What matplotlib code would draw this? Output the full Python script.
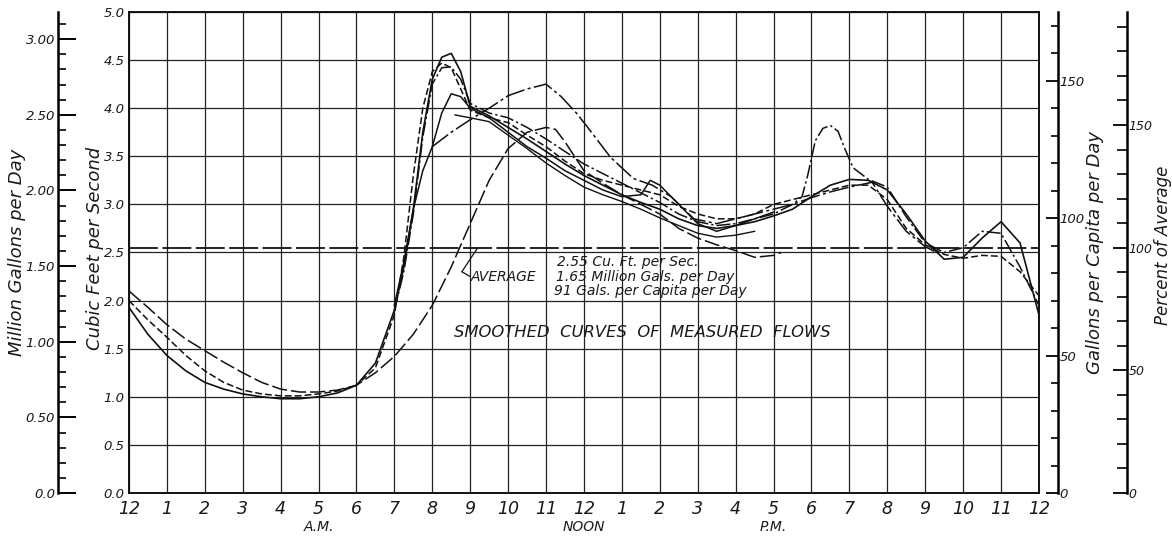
import numpy as np
import matplotlib.pyplot as plt

# --- data (hour of day, cubic feet per second) --- #
hour_labels = ['12', '1', '2', '3', '4', '5', '6', '7', '8', '9', '10', '11',
               '12', '1', '2', '3', '4', '5', '6', '7', '8', '9', '10', '11', '12']

s1_hours = [0, 0.5, 1, 1.5, 2, 2.5, 3, 3.5, 4, 4.5, 5, 5.5, 6, 6.5, 7, 7.25, 7.5, 7.75,
            8, 8.25, 8.5, 8.75, 9, 9.5, 10, 10.5, 11, 11.5, 12, 12.5, 13, 13.5, 14, 14.5,
            15, 15.5, 16, 16.5, 17, 17.5, 18, 18.5, 19, 19.5, 20, 20.5, 21, 21.5, 22,
            22.5, 23, 23.5, 24]
s1_flow = [1.93, 1.65, 1.43, 1.27, 1.15, 1.08, 1.03, 1.0, 0.98, 0.98, 1.0, 1.04, 1.12,
           1.35, 1.9, 2.35, 2.95, 3.75, 4.3, 4.53, 4.57, 4.38, 4.02, 3.92, 3.8, 3.68,
           3.55, 3.42, 3.3, 3.2, 3.1, 3.02, 2.95, 2.85, 2.78, 2.75, 2.78, 2.82, 2.88,
           2.95, 3.08, 3.2, 3.26, 3.25, 3.15, 2.9, 2.62, 2.43, 2.45, 2.65, 2.82, 2.6, 1.85]

d1_hours = [0, 0.5, 1, 1.5, 2, 2.5, 3, 3.5, 4, 4.5, 5, 5.5, 6, 6.5, 7, 7.25, 7.5, 7.75,
            8, 8.25, 8.5, 8.75, 9, 9.5, 10, 10.5, 11, 11.5, 12, 12.5, 13, 13.5, 14, 14.5,
            15, 15.5, 16, 16.5, 17, 17.5, 18, 18.5, 19, 19.5, 20, 20.5, 21, 21.5, 22,
            22.5, 23, 23.5, 24]
d1_flow = [2.0, 1.8, 1.62, 1.43, 1.27, 1.15, 1.07, 1.03, 1.01, 1.01, 1.03, 1.06, 1.12,
           1.3, 1.85, 2.45, 3.3, 4.0, 4.38, 4.47, 4.42, 4.2, 3.98, 3.9, 3.85, 3.72, 3.6,
           3.45, 3.32, 3.25, 3.2, 3.15, 3.1, 2.98, 2.9, 2.85, 2.85, 2.9, 3.0, 3.05, 3.1,
           3.15, 3.2, 3.2, 3.05, 2.75, 2.58, 2.48, 2.44, 2.47, 2.46, 2.3, 2.05]

l1_hours = [0, 0.5, 1, 1.5, 2, 2.5, 3, 3.5, 4, 4.5, 5, 5.5, 6, 6.5, 7, 7.5, 8, 8.5, 9,
            9.5, 10, 10.5, 11, 11.25, 11.5, 11.75, 12, 12.5, 13, 13.5, 14, 14.5, 15,
            15.5, 16, 16.5, 17, 17.2]
l1_flow = [2.1, 1.93, 1.75, 1.6, 1.48, 1.36, 1.25, 1.15, 1.08, 1.05, 1.05, 1.07, 1.12,
           1.25, 1.42, 1.65, 1.95, 2.35, 2.8, 3.25, 3.58, 3.75, 3.8, 3.78, 3.65, 3.5,
           3.35, 3.22, 3.1, 3.0, 2.9, 2.75, 2.65, 2.58, 2.52, 2.45, 2.47, 2.5]

s2_hours = [7, 7.25, 7.5, 7.75, 8, 8.25, 8.5, 8.75, 9, 9.5, 10, 10.5, 11, 11.5, 12,
            12.5, 13, 13.5, 13.75, 14, 14.5, 15, 15.5, 16, 16.5, 17]
s2_flow = [1.95, 2.4, 2.95, 3.35, 3.6, 3.95, 4.15, 4.12, 4.0, 3.9, 3.75, 3.6, 3.48,
           3.35, 3.25, 3.15, 3.08, 3.1, 3.25, 3.2, 3.0, 2.8, 2.72, 2.78, 2.85, 2.92]

dd1_hours = [7, 7.25, 7.5, 7.75, 8, 8.25, 8.5, 8.75, 9, 9.5, 10, 10.5, 11, 11.5, 12,
             12.5, 13, 13.5, 14, 14.5, 15, 15.5, 16, 16.5, 17, 17.5, 17.75, 17.9, 18.1,
             18.3, 18.5, 18.7, 18.9, 19.1, 19.5, 20, 20.5, 21, 21.5, 22, 22.5, 23,
             23.5, 24]
dd1_flow = [1.9, 2.3, 2.9, 3.7, 4.25, 4.42, 4.43, 4.3, 4.05, 3.95, 3.9, 3.8, 3.68, 3.55,
            3.42, 3.32, 3.22, 3.12, 3.02, 2.9, 2.82, 2.78, 2.8, 2.85, 2.9, 3.0, 3.08,
            3.3, 3.66, 3.79, 3.82, 3.76, 3.56, 3.38, 3.26, 3.18, 2.87, 2.6, 2.5, 2.55,
            2.72, 2.7, 2.35, 1.95]

ld1_hours = [8, 8.5, 9, 9.5, 10, 10.5, 11, 11.4, 11.8, 12.1, 12.7, 13.3, 13.8, 14.3,
             14.9, 15.5, 16, 16.5, 17, 17.5, 18, 18.5, 19, 19.6, 20, 20.5, 21, 21.3]
ld1_flow = [3.6, 3.75, 3.88, 4.0, 4.13, 4.2, 4.25, 4.12, 3.95, 3.8, 3.49, 3.27, 3.2,
            3.08, 2.85, 2.8, 2.85, 2.9, 2.95, 3.0, 3.07, 3.13, 3.18, 3.23, 2.98, 2.72,
            2.56, 2.5]

s3_hours = [8.6, 9, 9.5, 10, 10.5, 11, 11.5, 12, 12.5, 13, 13.5, 14, 14.5, 15, 15.5,
            16, 16.5]
s3_flow = [3.93, 3.9, 3.86, 3.72, 3.58, 3.43, 3.3, 3.18, 3.1, 3.03, 2.95, 2.86, 2.78,
           2.7, 2.66, 2.68, 2.72]

average_cfs = 2.55
mgd_per_cfs = 0.636
gpcd_per_cfs = 35.0
pct_per_cfs = 100 / 2.55

mgd_major = [0.0, 0.5, 1.0, 1.5, 2.0, 2.5, 3.0]
mgd_labels = ['0.0', '0.50', '1.00', '1.50', '2.00', '2.50', '3.00']
gpcd_major = [0, 50, 100, 150]
pct_major = [0, 50, 100, 150]

# --- figure --- #
plt.rcParams['font.family'] = ['DejaVu Sans']
lettering = dict(style='italic', color='#1a1a1a')
W, H = 1172, 537

fig = plt.figure(figsize=(W / 100, H / 100), dpi=100)
ax = fig.add_axes([0.110, 0.0819, 0.7765, 0.8958])
ax.set_xlim(0, 24)
ax.set_ylim(0, 5)

ax.set_xticks(np.arange(0, 25))
ax.set_xticklabels(hour_labels, fontsize=12.5, **lettering)
ax.set_yticks(np.arange(0, 5.01, 0.5))
ax.set_yticklabels(['%.1f' % v for v in np.arange(0, 5.01, 0.5)], fontsize=9.5, **lettering)
ax.tick_params(length=0, pad=3)
ax.tick_params(axis='x', pad=5)
ax.grid(True, color='#222222', lw=0.9)
for sp in ax.spines.values():
    sp.set_linewidth(1.4)
    sp.set_color('#111111')

# curves
ink = '#111111'
ax.plot(s1_hours, s1_flow, color=ink, lw=1.2)
ax.plot(d1_hours, d1_flow, color=ink, lw=1.1, ls=(0, (4.5, 2)))
ax.plot(l1_hours, l1_flow, color=ink, lw=1.1, ls=(0, (10, 2.6)))
ax.plot(s2_hours, s2_flow, color=ink, lw=1.1)
ax.plot(dd1_hours, dd1_flow, color=ink, lw=1.1, ls=(0, (9, 2, 1.5, 2)))
ax.plot(ld1_hours, ld1_flow, color=ink, lw=1.1, ls=(0, (13, 2.2, 2, 2.2)))
ax.plot(s3_hours, s3_flow, color=ink, lw=1.0)

# average line
ax.axhline(average_cfs, color=ink, lw=1.3, ls=(0, (16, 2.5)))
ax.annotate('', xy=(9.2, average_cfs), xytext=(8.78, 2.3),
            arrowprops=dict(arrowstyle='-', lw=0.9, color=ink, shrinkA=0, shrinkB=0))
ax.annotate('', xy=(8.78, 2.3), xytext=(9.0, 2.25),
            arrowprops=dict(arrowstyle='-', lw=0.9, color=ink, shrinkA=0, shrinkB=0))
ax.text(9.02, 2.25, 'AVERAGE', fontsize=10, va='center', ha='left', **lettering)
ax.text(11.3, 2.4, '2.55 Cu. Ft. per Sec.', fontsize=10, va='center', ha='left', **lettering)
ax.text(11.26, 2.25, '1.65 Million Gals. per Day', fontsize=10, va='center', ha='left', **lettering)
ax.text(11.22, 2.1, '91 Gals. per Capita per Day', fontsize=10, va='center', ha='left', **lettering)
ax.text(13.55, 1.67, 'SMOOTHED  CURVES  OF  MEASURED  FLOWS', fontsize=11.8, va='center',
        ha='center', **lettering)

# AM / NOON / PM
for hr, word in [(5, 'A.M.'), (12, 'NOON'), (17, 'P.M.')]:
    ax.text(hr, -0.35, word, fontsize=10, ha='center', va='center', **lettering)

# outer scales
mgd = ax.secondary_yaxis(-0.078, functions=(lambda c: c * mgd_per_cfs, lambda m: m / mgd_per_cfs))
mgd.set_yticks(mgd_major)
mgd.set_yticklabels(mgd_labels, fontsize=9.5, **lettering)
mgd.set_yticks(np.arange(0, 3.25, 0.1), minor=True)
mgd.tick_params(which='major', direction='in', length=13, width=1.4, pad=2)
mgd.tick_params(which='minor', direction='in', length=6, width=1.2)
mgd.spines['left'].set_linewidth(1.8)

gpcd = ax.secondary_yaxis(1.021, functions=(lambda c: c * gpcd_per_cfs, lambda g: g / gpcd_per_cfs))
gpcd.set_yticks(gpcd_major)
gpcd.set_yticklabels([str(v) for v in gpcd_major], fontsize=9.5, **lettering)
gpcd.set_yticks(np.arange(0, 171, 10), minor=True)
gpcd.tick_params(which='major', direction='in', length=9, width=1.3, pad=1)
gpcd.tick_params(which='minor', direction='in', length=5, width=1.2)
gpcd.spines['right'].set_linewidth(1.8)

pct = ax.secondary_yaxis(1.097, functions=(lambda c: c * pct_per_cfs, lambda p: p / pct_per_cfs))
pct.set_yticks(pct_major)
pct.set_yticklabels([str(v) for v in pct_major], fontsize=9, **lettering)
pct.set_yticks(np.arange(0, 191, 10), minor=True)
pct.tick_params(which='major', direction='in', length=10, width=1.3, pad=1)
pct.tick_params(which='minor', direction='in', length=7, width=1.2)
pct.spines['right'].set_linewidth(1.8)

# axis titles, placed where the reference letters them
for px, py, size, label in [(17, 252, 13, 'Million Gallons per Day'),
                            (95, 248, 13, 'Cubic Feet per Second'),
                            (1095, 252, 13, 'Gallons per Capita per Day'),
                            (1163, 245, 12, 'Percent of Average')]:
    fig.text(px / W, 1 - py / H, label, rotation=90, fontsize=size, ha='center',
             va='center', **lettering)

fig.savefig('out.png', dpi=100)
